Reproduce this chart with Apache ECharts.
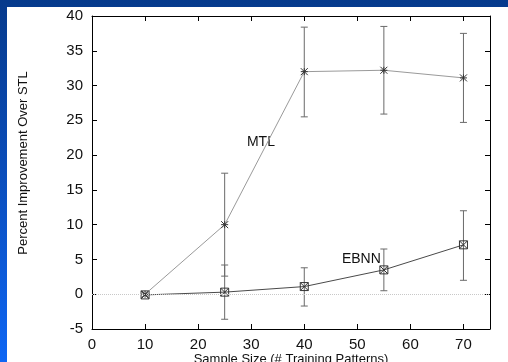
<!DOCTYPE html>
<html><head><meta charset="utf-8">
<script src="https://cdn.jsdelivr.net/npm/echarts@6/dist/echarts.min.js"></script>
<style>
html,body{margin:0;padding:0;background:#fff}
#outer{position:relative;width:508px;height:362px;background:linear-gradient(to bottom,#063a8c 0%,#0a4cb8 45%,#0e66f4 100%);overflow:hidden}
#chart{position:absolute;left:7px;top:7px;width:501px;height:355px;background:#fff}
</style></head><body>
<div id="outer"><div id="chart"></div></div>
<script>
// ---- data ----
const sampleSizes = [10, 25, 40, 55, 70];
const mtlMean = [0, 10.0, 32.0, 32.2, 31.1];
const mtlLow  = [0, 2.6, 25.5, 25.9, 24.7];
const mtlHigh = [0, 17.4, 38.4, 38.5, 37.5];
const ebnnMean = [-0.1, 0.3, 1.1, 3.5, 7.1];
const ebnnLow  = [-0.1, -3.6, -1.7, 0.5, 2.0];
const ebnnHigh = [-0.1, 4.2, 3.8, 6.5, 12.0];
const xTicks = [0, 10, 20, 30, 40, 50, 60, 70];
const yTicks = [-5, 0, 5, 10, 15, 20, 25, 30, 35, 40];
const seriesNames = ['MTL', 'EBNN'];
const labelX = [29.2, 47.1];
const labelY = [21.9, 5.1];
const xTitle = 'Sample Size (# Training Patterns)';
const yTitle = 'Percent Improvement Over STL';

const FONT = '"Liberation Sans", Arial, Helvetica, sans-serif';
const chart = echarts.init(document.getElementById('chart'), null, {renderer: 'canvas'});

function pairs(xs, ys) { return xs.map((x, i) => [x, ys[i]]); }
function errData(xs, lo, hi) { return xs.map((x, i) => [x, lo[i], hi[i]]); }

function errRender(params, api) {
  const x = api.value(0), lo = api.value(1), hi = api.value(2);
  if (lo === hi) return null;
  const p1 = api.coord([x, lo]), p2 = api.coord([x, hi]);
  const w = 3.5;
  const st = {stroke: '#6a6a6a', lineWidth: 1};
  return {
    type: 'group',
    children: [
      {type: 'line', shape: {x1: p1[0], y1: p1[1], x2: p2[0], y2: p2[1]}, style: st},
      {type: 'line', shape: {x1: p1[0] - w, y1: p1[1], x2: p1[0] + w, y2: p1[1]}, style: st},
      {type: 'line', shape: {x1: p2[0] - w, y1: p2[1], x2: p2[0] + w, y2: p2[1]}, style: st}
    ]
  };
}

const starPath = 'path://M0,0L10,10M10,0L0,10M5,0L5,10M0,5L10,5';
const boxPath = 'path://M0,0L10,0L10,10L0,10ZM0,0L10,10M10,0L0,10';

const option = {
  animation: false,
  backgroundColor: '#fff',
  textStyle: {fontFamily: FONT},
  grid: {left: 85, top: 9, right: 18, bottom: 33, containLabel: false, outerBoundsMode: 'none'},
  xAxis: [
    {
      type: 'value', min: 0, max: 75, interval: 10, position: 'bottom',
      axisLine: {show: true, onZero: false, lineStyle: {color: '#000', width: 1}},
      axisTick: {show: true, inside: true, length: 5, customValues: xTicks.slice(1), lineStyle: {color: '#000'}},
      axisLabel: {show: true, customValues: xTicks, margin: 8, fontFamily: FONT, fontSize: 15, color: '#111'},
      splitLine: {show: false}
    },
    {
      type: 'value', min: 0, max: 75, interval: 10, position: 'top',
      axisLine: {show: true, onZero: false, lineStyle: {color: '#000', width: 1}},
      axisTick: {show: true, inside: true, length: 5, customValues: xTicks.slice(1), lineStyle: {color: '#000'}},
      axisLabel: {show: false},
      splitLine: {show: false}
    }
  ],
  yAxis: [
    {
      type: 'value', min: -5, max: 40, interval: 5, position: 'left',
      axisLine: {show: true, onZero: false, lineStyle: {color: '#000', width: 1}},
      axisTick: {show: true, inside: true, length: 5, customValues: yTicks.slice(1, -1), lineStyle: {color: '#000'}},
      axisLabel: {show: true, customValues: yTicks, margin: 9, fontFamily: FONT, fontSize: 15, color: '#111'},
      splitLine: {show: false}
    },
    {
      type: 'value', min: -5, max: 40, interval: 5, position: 'right',
      axisLine: {show: true, onZero: false, lineStyle: {color: '#000', width: 1}},
      axisTick: {show: true, inside: true, length: 5, customValues: yTicks.slice(1, -1), lineStyle: {color: '#000'}},
      axisLabel: {show: false},
      splitLine: {show: false}
    }
  ],
  series: [
    {
      type: 'custom', name: 'mtlErr', renderItem: errRender, data: errData(sampleSizes, mtlLow, mtlHigh),
      encode: {x: 0, y: [1, 2]}, z: 2, silent: true
    },
    {
      type: 'custom', name: 'ebnnErr', renderItem: errRender, data: errData(sampleSizes, ebnnLow, ebnnHigh),
      encode: {x: 0, y: [1, 2]}, z: 2, silent: true
    },
    {
      type: 'line', name: seriesNames[1], data: pairs(sampleSizes, ebnnMean), z: 3,
      lineStyle: {color: '#4a4a4a', width: 1},
      symbol: boxPath, symbolSize: 8, showAllSymbol: true,
      itemStyle: {color: 'rgba(255,255,255,0)', borderColor: '#333', borderWidth: 1},
      markLine: {
        silent: true, symbol: 'none', label: {show: false},
        lineStyle: {color: '#c8c8c8', type: [1, 1], width: 1},
        data: [{yAxis: 0}]
      }
    },
    {
      type: 'line', name: seriesNames[0], data: pairs(sampleSizes, mtlMean), z: 4,
      lineStyle: {color: '#9a9a9a', width: 1},
      symbol: starPath, symbolSize: 7, showAllSymbol: true,
      itemStyle: {color: 'rgba(255,255,255,0)', borderColor: '#333', borderWidth: 1}
    }
  ]
};
chart.setOption(option);

// annotations and axis titles
const g = [];
seriesNames.forEach((n, i) => {
  const p = chart.convertToPixel({gridIndex: 0}, [labelX[i], labelY[i]]);
  g.push({type: 'text', x: p[0], y: p[1], style: {text: n, fontFamily: FONT, fontSize: 14, fill: '#111', textAlign: 'left', textVerticalAlign: 'middle'}});
});
g.push({type: 'text', x: 16, y: 156, rotation: Math.PI / 2,
  style: {text: yTitle, fontFamily: FONT, fontSize: 13, fill: '#111', textAlign: 'center', textVerticalAlign: 'middle'}});
g.push({type: 'text', x: 284, y: 346,
  style: {text: xTitle, fontFamily: FONT, fontSize: 13, fill: '#111', textAlign: 'center', textVerticalAlign: 'top'}});
chart.setOption({graphic: g});
</script>
</body></html>
